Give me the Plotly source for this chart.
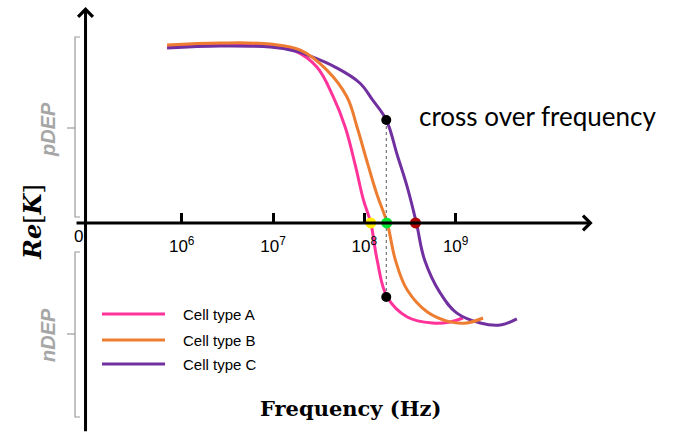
import plotly.graph_objects as go

W, H = 686, 441

# ---- data (log10 of frequency in Hz, Re[K]) ----
series_names = ["Cell type A", "Cell type B", "Cell type C"]
series_colors = ["#FF3399", "#ED7D31", "#7030A0"]

a_logf = [5.84, 6.42, 6.97, 7.24, 7.48, 7.66, 7.79, 7.90, 7.99, 8.07, 8.14, 8.25, 8.47, 8.75, 8.94, 9.08]
a_rek = [0.994, 1.006, 1.0, 0.972, 0.881, 0.712, 0.542, 0.328, 0.130, 0.0, -0.209, -0.418, -0.531, -0.565, -0.559, -0.537]

b_logf = [5.84, 6.42, 6.97, 7.30, 7.59, 7.81, 7.92, 8.04, 8.14, 8.25, 8.34, 8.47, 8.69, 8.94, 9.12, 9.30]
b_rek = [1.006, 1.017, 1.011, 0.977, 0.864, 0.712, 0.542, 0.328, 0.158, 0.0, -0.209, -0.379, -0.503, -0.559, -0.565, -0.537]

c_logf = [5.84, 6.42, 6.97, 7.24, 7.40, 7.68, 7.95, 8.09, 8.24, 8.36, 8.47, 8.57, 8.66, 8.83, 9.01, 9.27, 9.49, 9.67]
c_rek = [0.989, 1.0, 0.994, 0.972, 0.944, 0.881, 0.791, 0.695, 0.582, 0.384, 0.203, 0.0, -0.209, -0.395, -0.508, -0.565, -0.576, -0.542]

crossover_logf = [8.07, 8.245, 8.56]
crossover_colors = ["#FFEE00", "#00E632", "#B00000"]

marker_logf = 8.24
marker_rek = [0.582, -0.418]

tick_exps = [6, 7, 8, 9]
tick_labels = ["10<sup>6</sup>", "10<sup>7</sup>", "10<sup>8</sup>", "10<sup>9</sup>"]

# axis mapping (full-figure plot area)
x_range = [4.0105, 11.522]
y_range = [-1.232, 1.260]


def px(x):
    return x / W


def py(y):
    return 1 - y / H


fig = go.Figure()

for lx, ly, nm, col in [
    (a_logf, a_rek, series_names[0], series_colors[0]),
    (c_logf, c_rek, series_names[2], series_colors[2]),
    (b_logf, b_rek, series_names[1], series_colors[1]),
]:
    fig.add_trace(go.Scatter(x=lx, y=ly, mode="lines", name=nm,
                             line=dict(color=col, width=3, shape="spline", smoothing=1.1),
                             showlegend=False, hoverinfo="skip"))

# dashed crossover guide
fig.add_trace(go.Scatter(x=[marker_logf, marker_logf], y=marker_rek, mode="lines",
                         line=dict(color="#555555", width=1, dash="dot"),
                         showlegend=False, hoverinfo="skip"))
fig.add_trace(go.Scatter(x=[marker_logf, marker_logf], y=marker_rek, mode="markers",
                         marker=dict(color="black", size=10),
                         showlegend=False, hoverinfo="skip"))

fig.add_trace(go.Scatter(x=crossover_logf, y=[0] * len(crossover_logf), mode="markers",
                         marker=dict(color=crossover_colors, size=11),
                         showlegend=False, hoverinfo="skip", cliponaxis=False))

annotations = []
shapes = []


def label(x, y, text, size, family="Liberation Sans", color="black", angle=0, xanchor="center"):
    annotations.append(dict(x=px(x), y=py(y), xref="paper", yref="paper", text=text,
                            textangle=angle, showarrow=False, xanchor=xanchor, yanchor="middle",
                            font=dict(family=family, size=size, color=color)))


# axes arrows
y_axis_x = 4.947
annotations.append(dict(x=10.50, y=0, ax=4.832, ay=0, xref="x", yref="y", axref="x", ayref="y",
                        showarrow=True, arrowhead=4, arrowsize=0.95, arrowwidth=3,
                        arrowcolor="black", text=""))
annotations.append(dict(x=y_axis_x, y=1.22, ax=y_axis_x, ay=-1.186, xref="x", yref="y",
                        axref="x", ayref="y", showarrow=True, arrowhead=4, arrowsize=0.95,
                        arrowwidth=3, arrowcolor="black", text=""))

label(78, 236, "0", 17)

# brackets
gray = "#9A9A9A"
for top, mid, bot in [(37, 128, 217), (252, 334, 417)]:
    shapes.append(dict(type="path", xref="paper", yref="paper",
                       path=f"M {px(80)} {py(top)} L {px(75)} {py(top)} L {px(75)} {py(bot)} L {px(80)} {py(bot)}",
                       line=dict(color=gray, width=1.2)))
    shapes.append(dict(type="line", xref="paper", yref="paper", x0=px(67), x1=px(75),
                       y0=py(mid), y1=py(mid), line=dict(color=gray, width=1.2)))

label(48, 130, "<b><i>pDEP</i></b>", 20, color="#A6A6A6", angle=-90)
label(48, 335, "<b><i>nDEP</i></b>", 20, color="#A6A6A6", angle=-90)

label(32, 222, "<b><i>Re</i></b>[<b><i>K</i></b>]", 24, family="DejaVu Serif", angle=-90)
label(351, 408, "<b>Frequency (Hz)</b>", 21, family="DejaVu Serif")

# crossover label and arrow
label(537, 116, "cross over frequency", 26, family="Lato")
annotations.append(dict(x=px(397), y=py(218), ax=px(488), ay=py(129), xref="paper", yref="paper",
                        axref="x domain", ayref="y domain", showarrow=True, arrowhead=1,
                        arrowsize=1.6, arrowwidth=1, arrowcolor="#333333", text=""))

# legend
legend_y = [314, 340, 364]
for nm, col, yy in zip(series_names, series_colors, legend_y):
    shapes.append(dict(type="line", xref="paper", yref="paper", x0=px(102), x1=px(165),
                       y0=py(yy), y1=py(yy), line=dict(color=col, width=3)))
    label(181, yy, nm, 15, xanchor="left")

fig.update_layout(
    width=W, height=H,
    margin=dict(l=0, r=0, t=0, b=0),
    paper_bgcolor="white", plot_bgcolor="white",
    xaxis=dict(range=x_range, showgrid=False, zeroline=False, showline=False,
               tickmode="array", tickvals=tick_exps, ticktext=tick_labels,
               ticks="inside", ticklen=10, tickwidth=2.5, tickcolor="black",
               anchor="free", position=py(223), side="bottom",
               tickfont=dict(family="Liberation Sans", size=17, color="black"),
               ticklabelstandoff=11),
    yaxis=dict(range=y_range, visible=False),
    shapes=shapes,
    annotations=annotations,
    showlegend=False,
)

fig.write_html("out.html", config={"displayModeBar": False},
               post_script="document.body.style.margin='0';document.body.style.overflow='hidden';")
